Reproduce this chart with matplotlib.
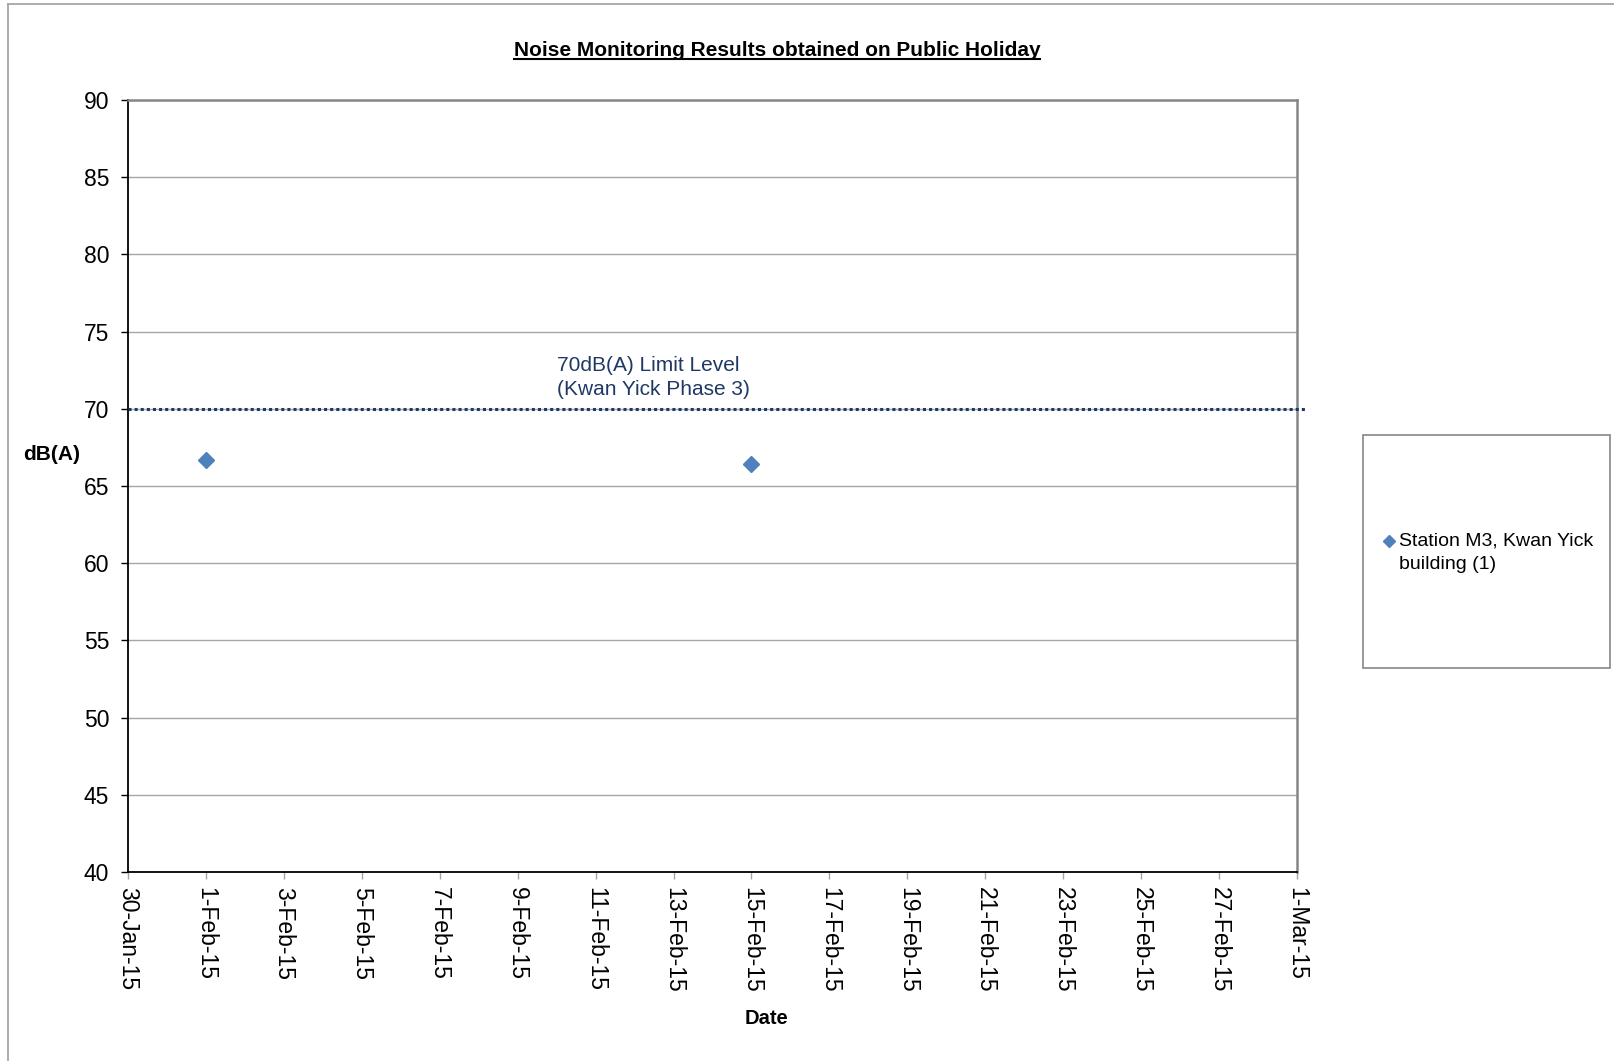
import matplotlib
matplotlib.use("Agg")
import matplotlib.pyplot as plt
import matplotlib.dates as mdates
from matplotlib.lines import Line2D
from matplotlib.patches import Rectangle
from matplotlib.legend_handler import HandlerLine2D
import numpy as np
import datetime as dt

plt.rcParams['font.family'] = ['Liberation Sans', 'DejaVu Sans']

# Measured noise levels on public holidays
dates = [dt.datetime(2015, 2, 1), dt.datetime(2015, 2, 15)]
levels = [66.7, 66.4]
series_name = "Station M3, Kwan Yick\nbuilding (1)"

limit_level = 70
limit_text = "70dB(A) Limit Level\n(Kwan Yick Phase 3)"

x_start = dt.datetime(2015, 1, 30)
x_end = dt.datetime(2015, 3, 1)
y_ticks = [40, 45, 50, 55, 60, 65, 70, 75, 80, 85, 90]


class TopMarkerHandler(HandlerLine2D):
    """Legend marker aligned with the first line of a two-line label."""

    def __init__(self, shift=7.5, **kw):
        super().__init__(**kw)
        self.shift = shift

    def create_artists(self, legend, orig_handle, xdescent, ydescent,
                       width, height, fontsize, trans):
        artists = super().create_artists(legend, orig_handle, xdescent, ydescent,
                                         width, height, fontsize, trans)
        for a in artists:
            a.set_ydata(np.asarray(a.get_ydata()) + self.shift)
        return artists


W, H = 1614, 1061
fig = plt.figure(figsize=(W / 100, H / 100), dpi=100)
ax = fig.add_axes([128 / W, 1 - 872 / H, (1297 - 128) / W, (872 - 100) / H])

navy = "#1F3864"
blue = "#4F81BD"

# Data points
pts, = ax.plot(dates, levels, linestyle="none", marker="D", markersize=8.5,
               color=blue, markeredgecolor=blue, label=series_name, zorder=5)

# Limit level line (runs slightly past the plot frame)
ax.axhline(limit_level, xmin=0, xmax=1.007, color=navy, linewidth=2.2,
           linestyle=(0, (1, 1)), clip_on=False, zorder=4)
ax.text(dt.datetime(2015, 2, 10, 0), limit_level + 0.65, limit_text,
        color=navy, fontsize=15, ha="left", va="bottom", linespacing=1.35)

ax.set_xlim(x_start, x_end)
ax.set_ylim(y_ticks[0], y_ticks[-1])
ax.set_yticks(y_ticks)
ax.xaxis.set_major_locator(mdates.DayLocator(interval=2))
ax.xaxis.set_major_formatter(mdates.DateFormatter("%-d-%b-%y"))

ax.yaxis.grid(True, color="#A6A6A6", linewidth=1.0)
ax.set_axisbelow(True)

for side in ("left", "bottom"):
    ax.spines[side].set_color("black")
    ax.spines[side].set_linewidth(1.3)
for side in ("right", "top"):
    ax.spines[side].set_color("#868686")
    ax.spines[side].set_linewidth(1.8)

ax.tick_params(axis="y", direction="out", length=5, width=1.0, color="black",
               labelsize=16.5, pad=8.5)
ax.tick_params(axis="x", direction="out", length=5, width=1.0, color="#A6A6A6",
               labelsize=16.5, pad=6)
for lbl in ax.get_xticklabels():
    lbl.set_rotation(270)
    lbl.set_ha("center")
    lbl.set_va("top")

ax.set_xlabel("Date", fontsize=14.5, fontweight="bold")
ax.xaxis.set_label_coords((766 - 128) / 1169, (872 - 1019) / 772)
ax.xaxis.label.set_va("center")
ax.set_ylabel("dB(A)", fontsize=15, fontweight="bold", rotation=0,
              ha="left", va="center")
ax.yaxis.set_label_coords((23 - 128) / 1169, (872 - 455) / 772)

# Title, underlined
title = fig.text(777 / W, 1 - 50 / H, "Noise Monitoring Results obtained on Public Holiday",
                 fontsize=15, fontweight="bold", ha="center", va="center")
fig.canvas.draw()
bb = title.get_window_extent()
uy = 1 - 59 / H
fig.add_artist(Line2D([bb.x0 / W, bb.x1 / W], [uy, uy], color="black",
                      linewidth=1.5, transform=fig.transFigure))

# Legend panel
fig.add_artist(Rectangle((1363 / W, 1 - 668 / H), (1610 - 1363) / W, (668 - 435) / H,
                         transform=fig.transFigure, facecolor="white",
                         edgecolor="#868686", linewidth=1.2))
leg = fig.legend(handles=[pts], loc="center left",
                 bbox_to_anchor=(1383 / W, 1 - 553 / H),
                 frameon=False, fontsize=14, handlelength=0.6, handletextpad=0.2,
                 borderpad=0, borderaxespad=0, markerscale=0.7,
                 handler_map={pts: TopMarkerHandler(shift=8.5)})
for t in leg.get_texts():
    t.set_linespacing(1.5)

# Outer frame lines
fig.add_artist(Line2D([8 / W, 8 / W], [0, 1 - 4 / H], color="#A6A6A6",
                      linewidth=1.3, transform=fig.transFigure))
fig.add_artist(Line2D([8 / W, 1], [1 - 4 / H, 1 - 4 / H], color="#A6A6A6",
                      linewidth=1.3, transform=fig.transFigure))

fig.savefig("out.png", dpi=100, facecolor="white")
